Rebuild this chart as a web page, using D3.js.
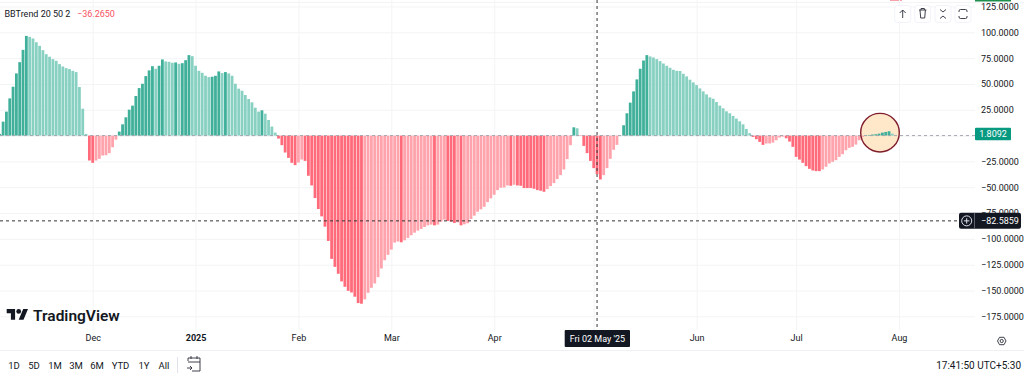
<!DOCTYPE html>
<html>
<head>
<meta charset="utf-8">
<script src="https://cdn.jsdelivr.net/npm/d3@7"></script>
<style>
html, body { margin: 0; padding: 0; background: #fff; }
svg { display: block; font-family: Roboto, sans-serif; }
text { fill: #131722; font-size: 9px; }
.grid line { stroke: #f3f4f6; }
.axis .domain, .axis line { display: none; }
.btn { fill: #fff; stroke: #f0f3fa; }
.icon { fill: none; stroke: #2a2e39; stroke-width: 0.9; }
</style>
</head>
<body>
<div id="chart"></div>
<script>
const firstDay = "2024-11-03";
const bbTrend = [
  1.6,13.5,23.2,36,47.3,60.2,71.1,83,96.5,95.6,94,90.4,86.9,82.7,78.8,76.3,74,72.4,69.2,66.9,65.3,64.4,62.7,61.5,47,26,1.6,
  -24.1,-26.4,-24.1,-22.5,-19.3,-19,-17,-11.3,-3.9,
  3.9,10.9,17.7,25.1,29,38.3,46,50.2,57.6,63.1,67.2,64.7,67.6,73.7,71.8,71.4,70.5,70.8,69.5,70.1,73,77.9,76.9,67.6,62.7,60.8,57.9,56.6,57,57.9,62.1,60.5,61.5,60.2,57.9,50.2,45.4,43.4,39.3,35.4,32.2,27,23.2,24.5,21.2,15.1,8.7,2.9,
  -2.9,-9.3,-16.4,-21.6,-26.4,-28.6,-26.1,-23.2,-24.5,-38.9,-48.3,-60.5,-71.1,-78.2,-88.2,-102,-119.4,-127.1,-133.8,-141.2,-146.4,-150.3,-151.9,-156,-162.2,-162.8,-158.6,-152.2,-147.4,-143.2,-137.1,-128.7,-120.7,-115.5,-110.4,-103.6,-102.6,-103.3,-101.4,-99.1,-96.5,-94,-92,-90.4,-88.5,-86.9,-86.2,-86.9,-86.2,-83.3,-81.4,-82.7,-83.3,-84.6,-84,-86.9,-85.9,-84.9,-80.8,-77.5,-73.7,-71.4,-68.9,-64.4,-60.8,-57.3,-52.8,-50.5,-50.2,-48.3,-48.6,-47.6,-48.3,-48.6,-50.8,-50.8,-50.8,-51.5,-52.8,-53.4,-54.4,-51.8,-48.9,-46,-42.1,-38.3,-32.8,-22.8,-9.3,
  8,7.1,-0.4,-10,-17,-24.5,-31.5,-37.3,-42.5,-38.3,-31.5,-22.5,-13.8,-9,-0.4,
  10,21.6,31.9,42.8,54.4,64.7,72.7,77.9,76.6,75.6,74,72.1,69.8,67.6,65.6,63.7,62.7,62.5,59.8,57.3,54.1,51.5,48.9,45.7,42.8,39.9,37,35.7,32.5,29,26.4,23.5,21.6,19,16.4,13.8,10.9,6.4,2.3,
  -1.3,-3.5,-6.1,-9,-7.7,-7.6,-6.8,-4.5,-1.9,-1,-2.6,-5.8,-10.9,-20.6,-23.2,-26.4,-29.6,-32.2,-33.8,-34.4,-34.4,-32.8,-30.2,-27,-25.4,-23.8,-20.6,-18,-14.2,-11.9,-10.9,-8.7,-4.5,-1.3,
  0.3,0.6,1,1.3,1.9,2.9,3.5,4.2,1.8092
];
const yTicks = [125,100,75,50,25,-25,-50,-75,-100,-125,-150,-175];
const monthDays = ["2024-12-01","2025-01-01","2025-02-01","2025-03-01","2025-04-01","2025-05-01","2025-06-01","2025-07-01","2025-08-01"];
// May sits under the crosshair date label, so it has no text of its own
const monthLabels = ["Dec","2025","Feb","Mar","Apr","","Jun","Jul","Aug"];
const rangeLabels = ["1D","5D","1M","3M","6M","YTD","1Y","All"];
const rangeCenters = [14,34,55,76,97,120.5,144,164];
const crossDay = "2025-05-02";
const crossValue = -82.5859;
const legendName = "BBTrend 20 50 2";
const legendValue = -36.265;

const width = 1024, height = 377;
const plotRight = 975, plotBottom = 330;
const fmt = d3.format(".4f");

const svg = d3.select("#chart").append("svg")
    .attr("width", width)
    .attr("height", height);

const xScale = d3.scaleUtc()
    .domain([new Date(monthDays[0]), new Date(monthDays[8])])
    .range([92.7, 899]);
const yScale = d3.scaleLinear()
    .domain([100, -150])
    .range([32.3, 290.5]);

const dayOf = i => d3.utcDay.offset(new Date(firstDay), i);
const yZero = yScale(0);

// top edge: clipped bits of price labels above the pane
svg.append("rect").attr("x", 890).attr("y", 0).attr("width", 12).attr("height", 1).attr("fill", "#f7a1aa");
svg.append("rect").attr("x", 975).attr("y", 0).attr("width", 36).attr("height", 1.5).attr("fill", "#1f8f4e");
svg.append("line").attr("x1", 0).attr("x2", width).attr("y1", 2.5).attr("y2", 2.5).attr("stroke", "#f3f4f6");

//grid
svg.append("g").attr("class", "grid")
    .attr("transform", "translate(0," + plotBottom + ")")
    .call(d3.axisBottom(xScale).tickValues(monthDays.map(d => new Date(d))).tickSize(-plotBottom).tickFormat(""))
    .call(g => g.select(".domain").remove());
svg.append("g").attr("class", "grid")
    .call(d3.axisRight(yScale).tickValues(yTicks.concat([0])).tickSize(plotRight).tickFormat(""))
    .call(g => g.select(".domain").remove());

// highlight circle, fill goes under the bars
svg.append("circle")
    .attr("cx", 880).attr("cy", 132.7).attr("r", 19.3)
    .attr("fill", "#ffe8c9");

//histogram, colour depends on direction against the previous bar
const barColor = (v, i) => {
    const prev = i > 0 ? bbTrend[i - 1] : 0;
    if (v >= 0) return v >= prev ? "#40b09a" : "#88d1c2";
    return v <= prev ? "#ff6b7a" : "#ffa3ac";
};
svg.append("g").selectAll("rect")
    .data(bbTrend)
    .join("rect")
    .attr("x", (d, i) => xScale(dayOf(i)) - 1.4)
    .attr("width", 2.8)
    .attr("y", d => Math.min(yScale(d), yZero))
    .attr("height", d => Math.abs(yScale(d) - yZero))
    .attr("fill", barColor);

// last value line
svg.append("line")
    .attr("x1", 0).attr("x2", plotRight)
    .attr("y1", yZero).attr("y2", yZero)
    .attr("stroke", "#a3a7b0")
    .attr("stroke-dasharray", "3 3");

svg.append("circle")
    .attr("cx", 880).attr("cy", 132.7).attr("r", 19.3)
    .attr("fill", "none")
    .attr("stroke", "#7f1d2d").attr("stroke-width", 1.4);

//crosshair
svg.append("line")
    .attr("x1", xScale(new Date(crossDay))).attr("x2", xScale(new Date(crossDay)))
    .attr("y1", 0).attr("y2", plotBottom)
    .attr("stroke", "#333").attr("stroke-dasharray", "3 3");
svg.append("line")
    .attr("x1", 0).attr("x2", 959)
    .attr("y1", yScale(crossValue)).attr("y2", yScale(crossValue))
    .attr("stroke", "#333").attr("stroke-dasharray", "3 3");

//yAxis labels
const yAxis = svg.append("g").attr("class", "axis")
    .attr("transform", "translate(972,0)")
    .call(d3.axisRight(yScale).tickValues(yTicks).tickSize(0).tickPadding(9).tickFormat(fmt));
yAxis.attr("font-size", null).attr("font-family", null);

//xAxis labels
const xAxis = svg.append("g").attr("class", "axis")
    .attr("transform", "translate(0,335)")
    .call(d3.axisBottom(xScale).tickValues(monthDays.map(d => new Date(d))).tickSize(0).tickPadding(0)
        .tickFormat((d, i) => monthLabels[i]));
xAxis.attr("font-size", null).attr("font-family", null);
xAxis.selectAll("text").attr("font-weight", (d, i) => monthLabels[i] === "2025" ? 700 : 400);

// legend
svg.append("text").attr("x", 4.5).attr("y", 17).text(legendName);
svg.append("text").attr("x", 77).attr("y", 17).style("fill", "#f7525f").text(fmt(legendValue).replace("-", "\u2212"));

// last value label
const lastY = yScale(bbTrend[bbTrend.length - 1]);
svg.append("rect").attr("x", 975).attr("y", lastY - 6).attr("width", 36).attr("height", 12.5).attr("rx", 1).attr("fill", "#089981");
svg.append("text").attr("x", 993).attr("y", lastY + 3.4).attr("text-anchor", "middle").style("fill", "#fff").text(fmt(bbTrend[bbTrend.length - 1]));

// crosshair value label
const crossY = yScale(crossValue);
svg.append("rect").attr("x", 959).attr("y", crossY - 8).attr("width", 62).attr("height", 16).attr("rx", 2).attr("fill", "#131722");
svg.append("line").attr("x1", 974.5).attr("x2", 974.5).attr("y1", crossY - 8).attr("y2", crossY + 8).attr("stroke", "#5d606b");
svg.append("circle").attr("cx", 966.7).attr("cy", crossY).attr("r", 5).attr("fill", "none").attr("stroke", "#e0e3eb");
svg.append("path").attr("d", `M964 ${crossY}h5.4M966.7 ${crossY - 2.7}v5.4`).attr("stroke", "#e0e3eb");
svg.append("text").attr("x", 981).attr("y", crossY + 3.2).style("fill", "#fff").text(fmt(crossValue).replace("-", "\u2212"));

// crosshair date label
svg.append("rect").attr("x", 564.7).attr("y", 330).attr("width", 65.3).attr("height", 17).attr("rx", 1).attr("fill", "#131722");
svg.append("text").attr("x", 597.4).attr("y", 342).attr("text-anchor", "middle").style("fill", "#fff").text("Fri 02 May '25");

// toolbar buttons in the pane corner
[902.7, 922.7, 943, 963].forEach(cx => {
    svg.append("rect").attr("class", "btn").attr("x", cx - 8).attr("y", 5.5).attr("width", 16).attr("height", 17).attr("rx", 3);
});
svg.append("path").attr("class", "icon").attr("d", "M902.7 18v-8M899.7 13l3-3 3 3");
svg.append("path").attr("class", "icon").attr("d", "M919 10h7.4M921 10v-1.5h3.4V10M920 10l.7 8h4l.7-8");
svg.append("path").attr("class", "icon").attr("d", "M940 9.5l3 2.5 3-2.5M940 18.5l3-2.5 3 2.5");
svg.append("path").attr("class", "icon").attr("d", "M959 12v-1a1.5 1.5 0 0 1 1.5-1.5h5a1.5 1.5 0 0 1 1.5 1.5v1M959 16v1a1.5 1.5 0 0 0 1.5 1.5h5a1.5 1.5 0 0 0 1.5-1.5v-1");

// logo
const logo = svg.append("g").attr("transform", "translate(6.7,306.6) scale(0.6)");
logo.append("path").attr("d", "M14 22H7V11H0V4h14v18zM28 22h-8l7.5-18h8L28 22z").attr("fill", "#131722");
logo.append("circle").attr("cx", 20).attr("cy", 8).attr("r", 4).attr("fill", "#131722");
svg.append("text").attr("x", 33).attr("y", 321).style("font-size", "15.5px").style("font-weight", 600).text("TradingView");

// bottom bar
svg.append("line").attr("x1", 0).attr("x2", width).attr("y1", 350.5).attr("y2", 350.5).attr("stroke", "#eef0f3");
svg.append("g").selectAll("text")
    .data(rangeLabels)
    .join("text")
    .attr("x", (d, i) => rangeCenters[i])
    .attr("y", 368.5)
    .attr("text-anchor", "middle")
    .style("font-size", "9.5px")
    .text(d => d);
svg.append("line").attr("x1", 177.5).attr("x2", 177.5).attr("y1", 357).attr("y2", 373).attr("stroke", "#e0e3eb");
svg.append("path").attr("class", "icon").attr("d", "M188 361v-3h12v13h-8M188 362h12M191 356v3M197 356v3M187 368h5M190 366l2 2-2 2");
svg.append("text").attr("x", 1021).attr("y", 368.5).attr("text-anchor", "end").style("font-size", "10px").text("17:41:50 UTC+5:30");

// settings gear
svg.append("path").attr("class", "icon").attr("d", "M997.5 341l2-3.7h4.5l2 3.7-2 3.7h-4.5z");
svg.append("circle").attr("class", "icon").attr("cx", 1001.7).attr("cy", 341).attr("r", 1.6);
</script>
</body>
</html>
